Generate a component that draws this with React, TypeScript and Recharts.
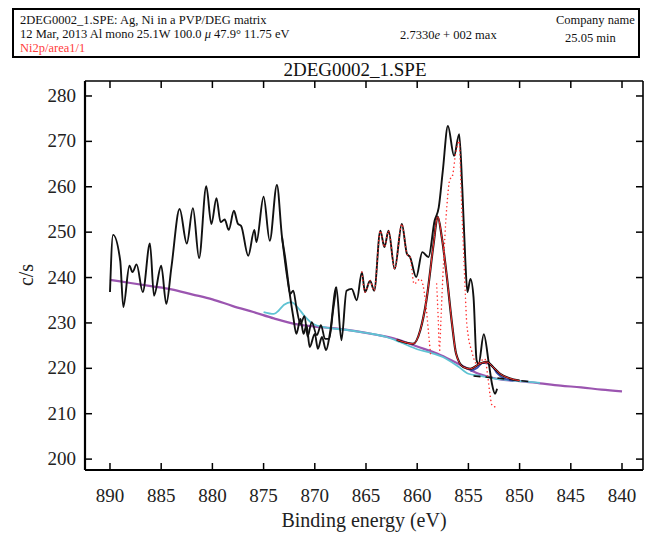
import React from "react";
import { LineChart, Line, XAxis, YAxis } from "recharts";

// binding energy ticks (eV) and count-rate ticks (c/s)
const xTicks = [890, 885, 880, 875, 870, 865, 860, 855, 850, 845, 840];
const yTicks = [200, 210, 220, 230, 240, 250, 260, 270, 280];

// [binding energy, c/s]
const spectrum: [number, number][] = [
  [890.0, 236.8], [889.7, 249.4], [889.0, 243.7], [888.7, 233.5], [888.1, 242.6],
  [887.8, 241.2], [887.4, 242.9], [886.8, 236.8], [886.1, 247.5], [885.7, 236.0],
  [885.0, 242.6], [884.5, 234.2], [884.0, 242.3], [883.2, 255.1], [882.5, 247.5],
  [881.9, 255.3], [881.3, 244.3], [880.6, 260.1], [880.1, 251.8], [879.6, 257.5],
  [879.2, 252.2], [878.8, 252.8], [878.4, 250.5], [877.9, 254.7], [877.5, 251.8],
  [877.2, 251.4], [876.5, 244.8], [875.9, 250.5], [875.7, 247.8], [875.0, 257.8],
  [874.4, 248.1], [873.7, 260.4], [873.2, 248.9], [872.9, 244.5], [872.4, 235.7],
  [872.1, 231.3], [871.8, 227.6], [871.4, 230.9], [871.1, 227.6], [870.8, 229.5],
  [870.5, 224.7], [870.0, 227.6], [869.7, 224.3], [869.3, 226.9], [868.9, 224.0],
  [868.5, 228.0], [867.9, 237.9], [867.4, 226.2], [866.9, 237.1], [866.4, 237.5],
  [865.9, 235.0], [865.4, 241.2], [865.1, 236.8], [864.6, 239.3], [864.2, 237.1],
  [863.6, 250.3], [863.2, 246.7], [862.8, 250.3], [862.2, 241.9], [861.5, 251.8],
  [861.0, 245.2], [860.7, 244.5], [860.1, 240.1], [859.5, 245.6], [858.9, 244.5],
  [858.3, 252.5], [857.9, 255.4], [857.5, 263.5], [857.0, 273.4], [856.4, 266.8],
  [855.9, 271.6], [855.6, 259.8], [855.3, 243.7], [855.1, 236.8], [854.8, 239.7],
  [854.5, 235.7], [854.2, 221.8], [854.0, 221.0], [853.5, 227.5], [853.0, 221.0],
  [852.7, 216.6], [852.4, 214.4], [852.2, 215.5],
];

// second trace where the spectrum splits (873 - 868 eV)
const spectrum2: [number, number][] = [
  [873.2, 248.9], [872.7, 240.1], [872.4, 236.4], [872.1, 237.1], [871.8, 233.5],
  [871.4, 229.8], [871.0, 231.5], [870.7, 227.0], [870.3, 230.2], [869.8, 227.3],
  [869.4, 229.5], [869.0, 226.5], [868.6, 226.5], [868.2, 233.0], [867.9, 237.9],
];

const background: [number, number][] = [
  [890, 239.5], [888, 238.8], [886, 238.1], [884, 237.4], [882, 236.3],
  [880, 235.2], [878, 233.7], [876, 232.4], [874, 231.0], [872, 229.8],
  [870, 229.2], [868, 228.8], [866, 228.2], [864, 227.4], [862, 226.4],
  [860, 224.8], [858, 223.2], [856, 221.0], [854, 218.8], [852, 217.6],
  [850, 217.2], [848, 216.7], [846, 216.2], [844, 215.8], [842, 215.3], [840, 214.9],
];

const cyanFit: [number, number][] = [
  [875.0, 232.4], [874.0, 232.0], [873.5, 232.8], [873.0, 234.0], [872.3, 234.6],
  [871.7, 233.5], [871.0, 231.5], [870.2, 229.8], [869.0, 229.0], [867.0, 228.5],
  [865.0, 227.8], [863.0, 226.9], [861.7, 225.8], [860.0, 224.2], [858.5, 223.3],
  [857.5, 222.5], [856.0, 220.4], [855.0, 218.8], [854.0, 218.4], [852.0, 217.6],
  [850.0, 217.2], [848.0, 216.8],
];

const envelope: [number, number][] = [
  [862.0, 226.3], [861.0, 225.6], [860.4, 225.4], [859.7, 228.4], [859.1, 235.0],
  [858.4, 247.4], [858.0, 253.4], [857.6, 248.9], [857.1, 240.1], [856.6, 229.8],
  [856.2, 223.2], [855.5, 220.3], [854.8, 219.9], [853.9, 221.0], [853.2, 221.4],
  [852.6, 220.3], [851.9, 218.8], [851.0, 217.8], [850.0, 217.3],
];

const bluePeak: [number, number][] = [
  [854.8, 219.4], [854.2, 220.0], [853.6, 221.2], [853.0, 221.0], [852.6, 220.3],
  [852.2, 218.9], [851.3, 217.6], [850.6, 217.3],
];

const dashedBase: [number, number][] = [
  [854.5, 218.3], [852.0, 217.8], [850.0, 217.3], [848.7, 217.0],
];

const dotsA: [number, number][] = [
  [865.4, 241.2], [865.1, 236.8], [864.6, 239.3], [864.2, 237.1], [863.6, 250.3],
  [863.2, 246.7], [862.8, 250.3], [862.2, 241.9], [861.5, 251.8], [861.0, 245.2],
  [860.7, 244.5], [860.3, 238.6], [859.7, 239.7], [859.2, 235.0], [858.9, 228.0],
  [858.7, 223.2],
];

const dotsB: [number, number][] = [
  [858.1, 238.6], [857.95, 231.0], [857.85, 224.7],
];

const dotsC: [number, number][] = [
  [857.8, 224.0], [857.5, 240.0], [857.1, 255.8], [856.8, 261.7], [856.6, 262.1],
  [856.2, 267.9], [855.9, 270.1], [855.7, 258.4], [855.5, 247.4], [855.3, 236.4],
  [855.2, 231.3], [855.0, 226.9], [854.7, 224.0], [854.2, 221.0], [853.4, 222.1],
  [853.1, 218.1], [852.9, 214.4], [852.7, 211.9], [852.4, 211.5],
];

const toRows = (pts: [number, number][]) => pts.map(([e, v]) => ({ e, v }));

const FONT = "'Liberation Serif', 'DejaVu Serif', serif";

const BottomTick = (props: any) => {
  const { x, y, payload } = props;
  return (
    <g>
      <line x1={x} y1={y} x2={x} y2={y - 7} stroke="#000" strokeWidth={1.5} />
      <text x={x} y={y + 32} textAnchor="middle" fontSize={19} fontFamily={FONT} fill="#222">
        {payload.value}
      </text>
    </g>
  );
};

const TopTick = (props: any) => {
  const { x, y } = props;
  return <line x1={x} y1={y} x2={x} y2={y + 7} stroke="#000" strokeWidth={1.5} />;
};

const LeftTick = (props: any) => {
  const { x, y, payload } = props;
  return (
    <g>
      <line x1={x} y1={y} x2={x + 7} y2={y} stroke="#000" strokeWidth={1.5} />
      <text x={x - 9} y={y + 6} textAnchor="end" fontSize={19} fontFamily={FONT} fill="#222">
        {payload.value}
      </text>
    </g>
  );
};

const RightTick = (props: any) => {
  const { x, y } = props;
  return <line x1={x} y1={y} x2={x - 7} y2={y} stroke="#000" strokeWidth={1.5} />;
};

const xDomain = [837.95, 892.44];
const yDomain = [197.6, 283.3];

export default function App() {
  const common = {
    xAxisId: "b",
    yAxisId: "l",
    dataKey: "v",
    dot: false,
    isAnimationActive: false,
    type: "monotone" as const,
  };
  return (
    <div style={{ position: "absolute", left: 0, top: 0, width: 645, height: 538, background: "#fff", fontFamily: FONT }}>
      <div
        style={{
          position: "absolute",
          left: 12,
          top: 8,
          width: 624,
          height: 46,
          border: "2px solid #000",
          fontSize: 12.5,
          lineHeight: "14px",
          color: "#111",
        }}
      >
        <div style={{ position: "absolute", left: 6, top: 3 }}>2DEG0002_1.SPE: Ag, Ni in a PVP/DEG matrix</div>
        <div style={{ position: "absolute", left: 6, top: 17 }}>
          12 Mar, 2013 Al mono 25.1W 100.0 <i>μ</i> 47.9° 11.75 eV
        </div>
        <div style={{ position: "absolute", left: 6, top: 31, color: "#ff3b3b" }}>Ni2p/area1/1</div>
        <div style={{ position: "absolute", left: 386, top: 18 }}>
          2.7330<i>e</i> + 002 max
        </div>
        <div style={{ position: "absolute", left: 542, top: 3 }}>Company name</div>
        <div style={{ position: "absolute", left: 551, top: 21 }}>25.05 min</div>
      </div>
      <div style={{ position: "absolute", left: 0, width: 710, top: 59, textAlign: "center", fontSize: 19, color: "#111" }}>
        2DEG0002_1.SPE
      </div>
      <div
        style={{
          position: "absolute",
          left: 26,
          top: 275,
          transform: "translate(-50%, -50%) rotate(-90deg)",
          fontSize: 20,
          color: "#222",
        }}
      >
        c/s
      </div>
      <div style={{ position: "absolute", left: 85, width: 558, top: 509, textAlign: "center", fontSize: 20, color: "#222" }}>
        Binding energy (eV)
      </div>
      <LineChart width={645} height={538} margin={{ top: 80, right: 1, bottom: 67, left: 84 }}>
        <XAxis
          xAxisId="b"
          type="number"
          dataKey="e"
          domain={xDomain}
          reversed
          ticks={xTicks}
          allowDataOverflow
          height={1}
          tickSize={0}
          tickMargin={0}
          tickLine={false}
          tick={<BottomTick />}
          axisLine={{ stroke: "#000", strokeWidth: 2.2 }}
        />
        <XAxis
          xAxisId="t"
          orientation="top"
          type="number"
          dataKey="e"
          domain={xDomain}
          reversed
          ticks={xTicks}
          allowDataOverflow
          height={1}
          tickSize={0}
          tickMargin={0}
          tickLine={false}
          tick={<TopTick />}
          axisLine={{ stroke: "#000", strokeWidth: 1.6 }}
        />
        <YAxis
          yAxisId="l"
          type="number"
          domain={yDomain}
          ticks={yTicks}
          allowDataOverflow
          width={1}
          tickSize={0}
          tickMargin={0}
          tickLine={false}
          tick={<LeftTick />}
          axisLine={{ stroke: "#000", strokeWidth: 2.2 }}
        />
        <YAxis
          yAxisId="r"
          orientation="right"
          type="number"
          domain={yDomain}
          ticks={yTicks}
          allowDataOverflow
          width={1}
          tickSize={0}
          tickMargin={0}
          tickLine={false}
          tick={<RightTick />}
          axisLine={{ stroke: "#000", strokeWidth: 1.6 }}
        />
        <Line {...common} data={toRows(background)} stroke="#9b55b0" strokeWidth={2.2} />
        <Line {...common} data={toRows(cyanFit)} stroke="#5fc3d3" strokeWidth={1.8} />
        <Line {...common} data={toRows(bluePeak)} stroke="#3c4cb0" strokeWidth={1.8} />
        <Line {...common} data={toRows(dashedBase)} stroke="#111" strokeWidth={1.6} strokeDasharray="7 5" />
        <Line {...common} data={toRows(spectrum2)} stroke="#111" strokeWidth={1.8} />
        <Line {...common} data={toRows(spectrum)} stroke="#111" strokeWidth={1.9} />
        <Line {...common} data={toRows(envelope)} stroke="#111" strokeWidth={2.2} />
        <Line {...common} data={toRows(envelope)} stroke="#ff3030" strokeWidth={1} />
        <Line {...common} data={toRows(dotsA)} stroke="#ff3030" strokeWidth={1.5} strokeDasharray="0.1 4" strokeLinecap="round" />
        <Line {...common} data={toRows(dotsB)} stroke="#ff3030" strokeWidth={1.5} strokeDasharray="0.1 4" strokeLinecap="round" />
        <Line {...common} data={toRows(dotsC)} stroke="#ff3030" strokeWidth={1.5} strokeDasharray="0.1 4" strokeLinecap="round" />
      </LineChart>
    </div>
  );
}
